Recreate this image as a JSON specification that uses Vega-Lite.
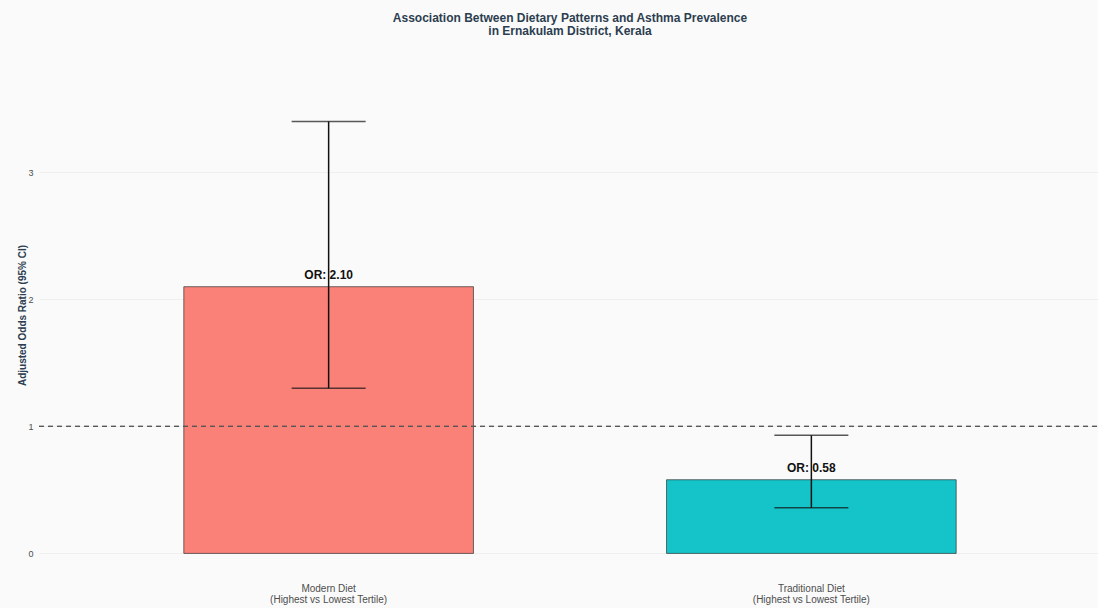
{
  "$schema": "https://vega.github.io/schema/vega-lite/v6.json",
  "autosize": "none",
  "width": 1062,
  "height": 475,
  "padding": {"left": 39, "top": 100, "right": 0, "bottom": 33},
  "background": "#fafafa",
  "config": {
    "view": {"stroke": null, "fill": "#fafafa"},
    "font": "Liberation Sans"
  },
  "title": {
    "text": ["Association Between Dietary Patterns and Asthma Prevalence", "in Ernakulam District, Kerala"],
    "anchor": "middle",
    "fontSize": 12,
    "fontWeight": "bold",
    "color": "#2c3e50",
    "lineHeight": 13,
    "offset": 62,
    "font": "Liberation Sans"
  },
  "data": {
    "values": [
      {"diet": "Modern Diet", "sub": "(Highest vs Lowest Tertile)", "or": 2.10, "lo": 1.30, "hi": 3.40, "label": "OR: 2.10"},
      {"diet": "Traditional Diet", "sub": "(Highest vs Lowest Tertile)", "or": 0.58, "lo": 0.36, "hi": 0.93, "label": "OR: 0.58"}
    ]
  },
  "encoding": {
    "x": {
      "field": "diet",
      "type": "nominal",
      "sort": null,
      "scale": {"paddingInner": 0.4, "paddingOuter": 0.3},
      "axis": {
        "title": null,
        "labelAngle": 0,
        "labelExpr": "[datum.label, '(Highest vs Lowest Tertile)']",
        "labelFontSize": 10,
        "labelColor": "#4d4d4d",
        "labelLineHeight": 11,
        "labelPadding": 8,
        "ticks": false,
        "domain": false,
        "grid": false
      }
    }
  },
  "layer": [
    {
      "mark": {"type": "bar", "stroke": "#333333", "strokeWidth": 0.7, "fillOpacity": 0.92},
      "encoding": {
        "y": {
          "field": "or",
          "type": "quantitative",
          "scale": {"domain": [-0.17, 3.57], "nice": false, "zero": false},
          "axis": {
            "title": "Adjusted Odds Ratio (95% CI)",
            "titleFontSize": 10,
            "titleFontWeight": "bold",
            "titleColor": "#2c3e50",
            "titlePadding": 0,
            "titleY": 215,
            "values": [0, 1, 2, 3],
            "format": "d",
            "labelFontSize": 9,
            "labelColor": "#4d4d4d",
            "labelPadding": 6,
            "ticks": false,
            "domain": false,
            "gridColor": "#efefef",
            "gridWidth": 1
          }
        },
        "y2": {"datum": 0},
        "color": {
          "field": "diet",
          "type": "nominal",
          "scale": {"domain": ["Modern Diet", "Traditional Diet"], "range": ["#F8766D", "#00BFC4"]},
          "legend": null
        }
      }
    },
    {
      "mark": {"type": "text", "baseline": "bottom", "dy": -5, "fontSize": 12, "fontWeight": "bold", "color": "#111111"},
      "encoding": {
        "y": {"field": "or", "type": "quantitative"},
        "text": {"field": "label"}
      }
    },
    {
      "mark": {"type": "rule", "color": "#111111", "strokeWidth": 1.5},
      "encoding": {
        "y": {"field": "lo", "type": "quantitative"},
        "y2": {"field": "hi"}
      }
    },
    {
      "mark": {"type": "tick", "color": "#111111", "thickness": 1.5, "size": 74},
      "encoding": {
        "y": {"field": "hi", "type": "quantitative"}
      }
    },
    {
      "mark": {"type": "tick", "color": "#111111", "thickness": 1.5, "size": 74},
      "encoding": {
        "y": {"field": "lo", "type": "quantitative"}
      }
    },
    {
      "mark": {"type": "rule", "color": "#555555", "opacity": 0.85, "strokeWidth": 1.4, "strokeDash": [5, 4]},
      "encoding": {
        "y": {"datum": 1},
        "x": {"value": 0},
        "x2": {"value": "width"}
      }
    }
  ]
}
